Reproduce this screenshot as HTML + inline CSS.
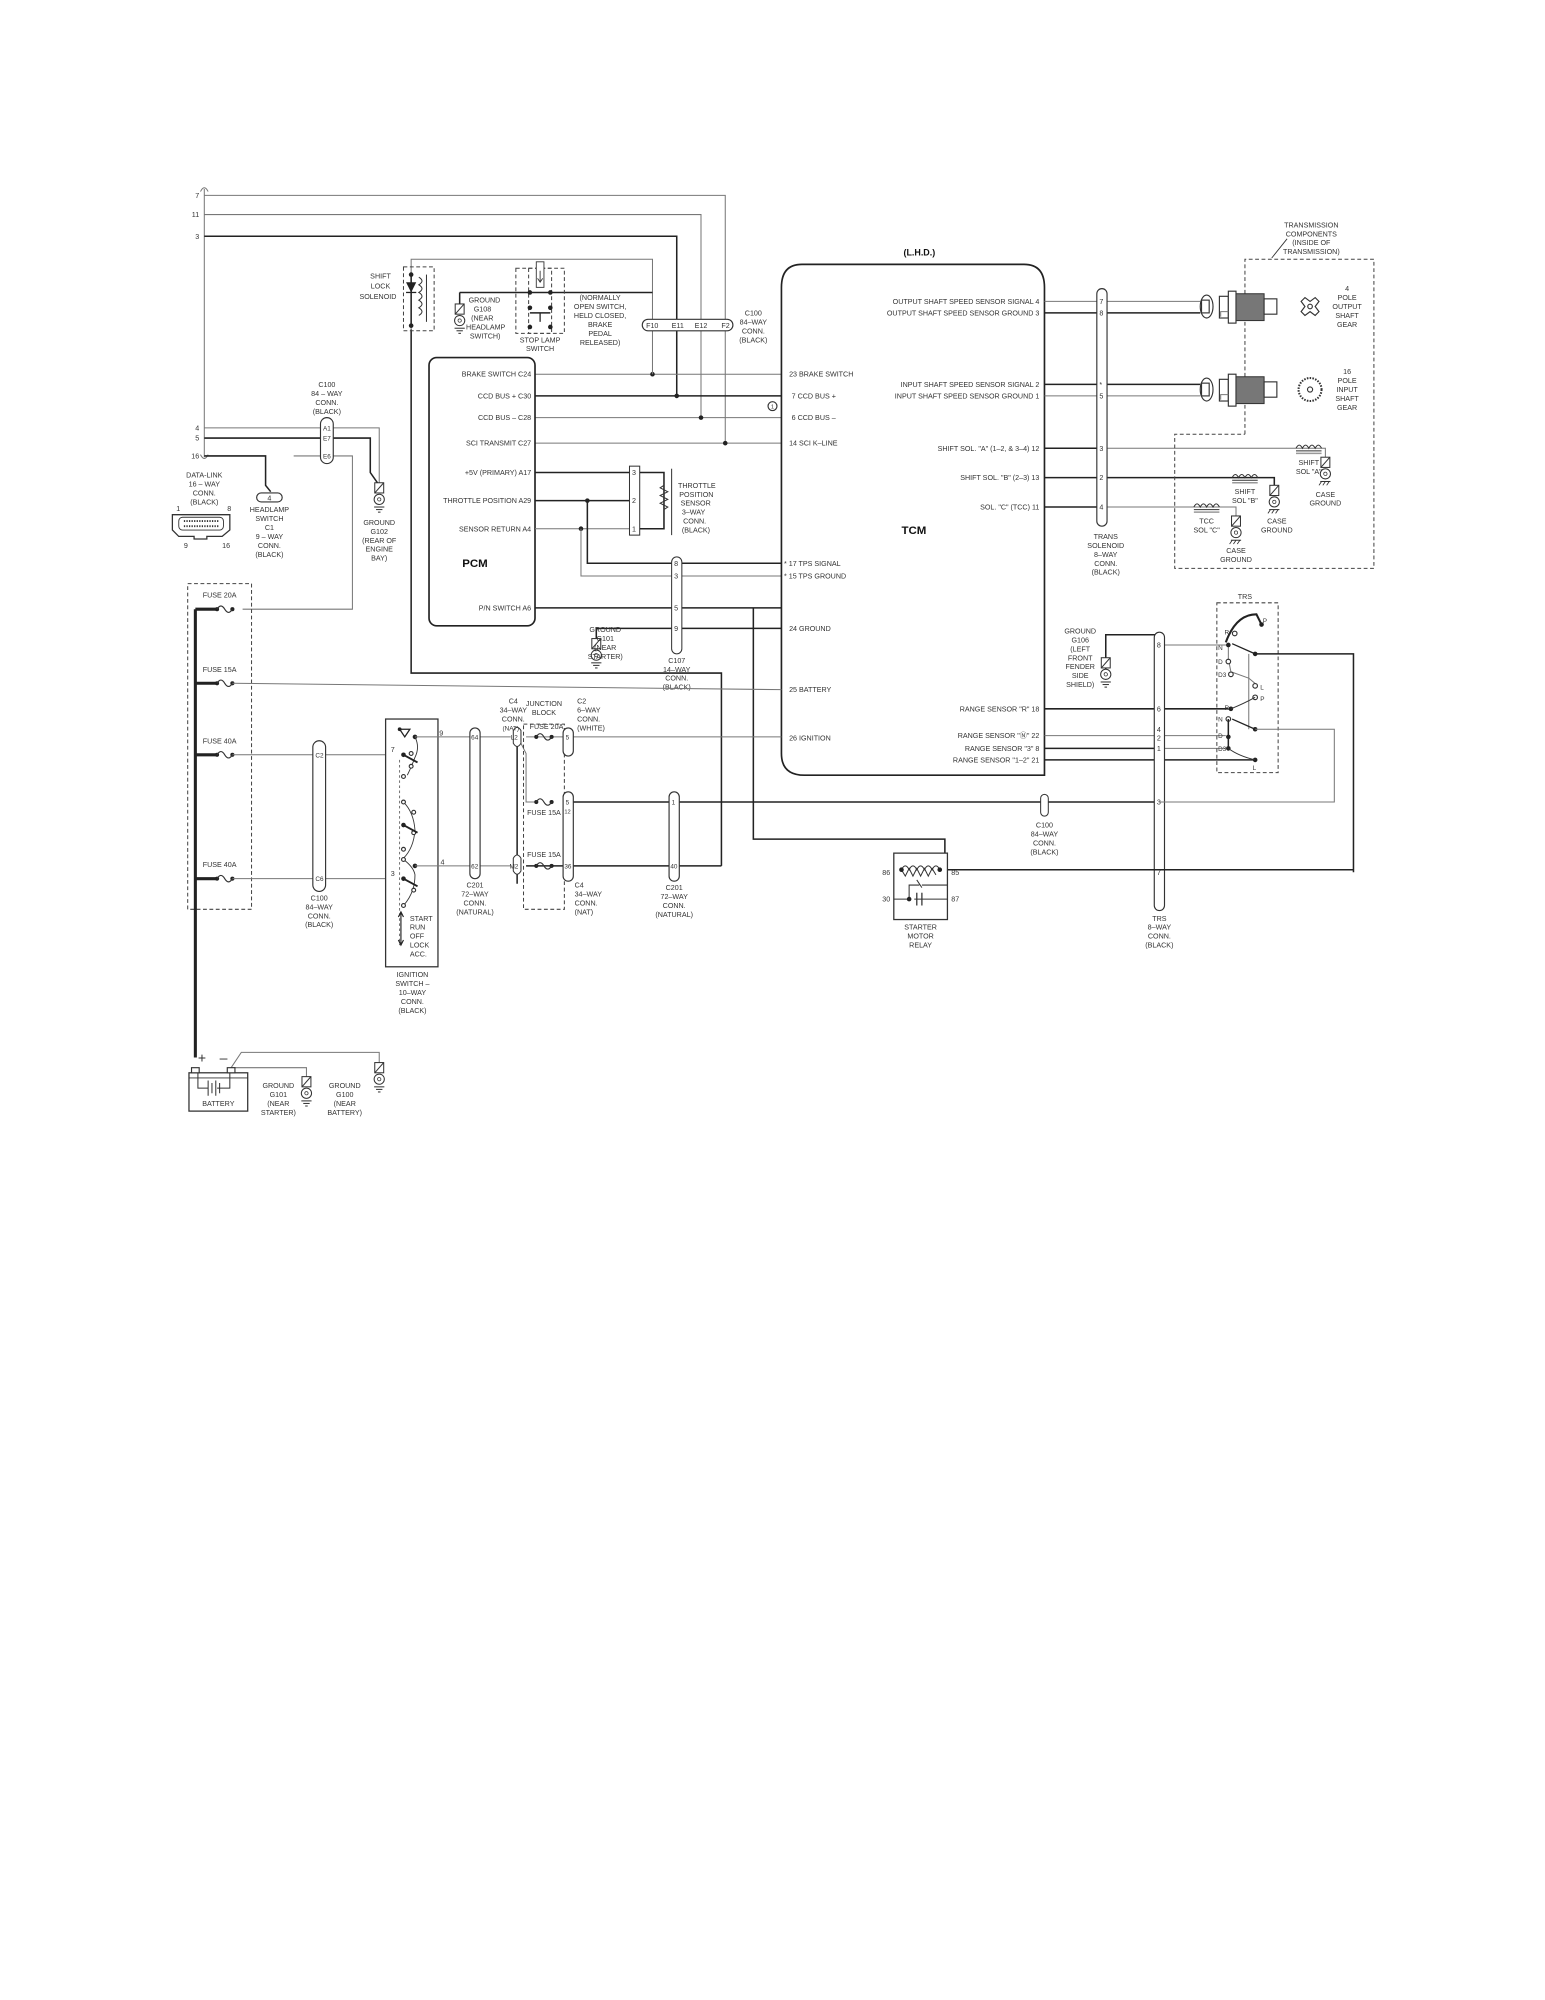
<!DOCTYPE html>
<html><head><meta charset="utf-8"><style>
html,body{margin:0;padding:0;background:#fff}
svg{display:block}
text{font-family:"Liberation Sans",sans-serif;font-size:5.6px;fill:#333}
.b{font-weight:bold;fill:#111}
.s5{font-size:5px}
.s45{font-size:4.5px}
.w{fill:none;stroke:#777;stroke-width:0.8}
.k{fill:none;stroke:#222;stroke-width:1.2}
.t{fill:none;stroke:#222;stroke-width:2.4}
.d{fill:none;stroke:#444;stroke-width:0.8;stroke-dasharray:3,2}
.c{fill:#fff;stroke:#333;stroke-width:0.9}
.bx{fill:none;stroke:#222;stroke-width:1.3}
</style></head><body>
<svg width="1545" height="2000" viewBox="0 0 1210 1566" preserveAspectRatio="none" xmlns="http://www.w3.org/2000/svg">
<defs>
<g id="gnd"><rect x="-3.5" y="0" width="7" height="8" fill="#fff" stroke="#333" stroke-width="0.8"/><line x1="-3.5" y1="8" x2="3.5" y2="0" stroke="#333" stroke-width="0.8"/><circle cx="0" cy="13" r="4" fill="#fff" stroke="#333" stroke-width="0.8"/><circle cx="0" cy="13" r="1.3" fill="none" stroke="#333" stroke-width="0.6"/><line x1="-4" y1="19" x2="4" y2="19" stroke="#333" stroke-width="0.8"/><line x1="-2.5" y1="21" x2="2.5" y2="21" stroke="#333" stroke-width="0.8"/><line x1="-1" y1="23" x2="1" y2="23" stroke="#333" stroke-width="0.8"/></g>
<g id="cg"><rect x="-3.5" y="0" width="7" height="8" fill="#fff" stroke="#333" stroke-width="0.8"/><line x1="-3.5" y1="8" x2="3.5" y2="0" stroke="#333" stroke-width="0.8"/><circle cx="0" cy="13" r="4" fill="#fff" stroke="#333" stroke-width="0.8"/><circle cx="0" cy="13" r="1.3" fill="none" stroke="#333" stroke-width="0.6"/><line x1="-4" y1="19" x2="4" y2="19" stroke="#333" stroke-width="0.8"/><path d="M-3 19l-2 3M0 19l-2 3M3 19l-2 3" stroke="#333" stroke-width="0.7"/></g>
<g id="fuse"><circle cx="-6" cy="0" r="1.6" fill="#222"/><circle cx="6" cy="0" r="1.6" fill="#222"/><path d="M-6 0 q3 -5 6 0 q3 5 6 0" fill="none" stroke="#333" stroke-width="0.9"/></g>
<g id="coil"><path d="M0 0 q2.5 -5 5 0 q2.5 -5 5 0 q2.5 -5 5 0 q2.5 -5 5 0" fill="none" stroke="#333" stroke-width="0.8"/><line x1="0" y1="2" x2="20" y2="2" stroke="#333" stroke-width="0.8"/><line x1="0" y1="4" x2="20" y2="4" stroke="#999" stroke-width="1.2"/></g>
</defs>

<path class="w" d="M157 150 q3 -6 6 0 M157 356 q3 6 6 0"/>
<line class="w" x1="160" y1="148" x2="160" y2="358"/>
<text x="156" y="155" text-anchor="end">7</text><text x="156" y="170" text-anchor="end">11</text><text x="156" y="187" text-anchor="end">3</text>
<text x="156" y="337" text-anchor="end">4</text><text x="156" y="345" text-anchor="end">5</text><text x="156" y="359" text-anchor="end">16</text>
<polyline class="w" points="160,153 568,153 568,347 612,347"/>
<polyline class="w" points="160,168 549,168 549,327 612,327"/>
<polyline class="k" points="160,185 530,185 530,310 612,310"/>
<polyline class="w" points="419,293 612,293"/>
<polyline class="k" points="419,310 530,310"/>
<polyline class="w" points="419,327 549,327"/>
<polyline class="w" points="419,347 568,347"/>
<circle cx="511" cy="293" r="1.8" fill="#222"/><circle cx="530" cy="310" r="1.8" fill="#222"/><circle cx="549" cy="327" r="1.8" fill="#222"/><circle cx="568" cy="347" r="1.8" fill="#222"/>
<circle cx="605" cy="318" r="3.5" class="c"/><text x="605" y="320" text-anchor="middle" class="s45">1</text>
<polyline class="w" points="322,258 322,203 511,203 511,293"/>
<polyline class="k" points="322,258 322,527 565,527 565,678"/>
<polyline class="k" points="360,229 511,229"/>
<polyline class="k" points="360,229 360,238"/>
<use href="#gnd" x="360" y="238"/>
<text x="367" y="237">GROUND</text><text x="371" y="244">G108</text><text x="369" y="251">(NEAR</text><text x="365" y="258">HEADLAMP</text><text x="368" y="265">SWITCH)</text>
<rect class="d" x="316" y="209" width="24" height="50"/>
<polyline class="k" points="322,215 322,255"/>
<path d="M318 221 l8 0 l-4 8z" fill="#222"/><line x1="318" y1="229" x2="326" y2="229" stroke="#222"/>
<path d="M328 217 q5 3 0 6 q5 3 0 6 q5 3 0 6 q5 3 0 6 q5 3 0 6" fill="none" stroke="#333" stroke-width="0.8"/>
<line x1="334" y1="215" x2="334" y2="252" stroke="#333" stroke-width="0.8"/>
<circle cx="322" cy="215" r="1.8" fill="#222"/><circle cx="322" cy="255" r="1.8" fill="#222"/>
<text x="298" y="218" text-anchor="middle">SHIFT</text><text x="298" y="226" text-anchor="middle">LOCK</text><text x="296" y="234" text-anchor="middle">SOLENOID</text>
<rect class="d" x="404" y="210" width="38" height="51"/>
<rect class="d" x="414" y="210" width="18" height="51"/>
<rect x="420" y="205" width="6" height="20" fill="#fff" stroke="#333" stroke-width="0.7"/><path d="M423 212 v9 m-2 -3 l2 3 l2 -3" stroke="#333" fill="none" stroke-width="0.7"/>
<circle cx="415" cy="229" r="1.8" fill="#222"/><circle cx="431" cy="229" r="1.8" fill="#222"/>
<circle cx="415" cy="241" r="1.8" fill="#222"/><circle cx="431" cy="241" r="1.8" fill="#222"/>
<line x1="415" y1="245" x2="431" y2="245" stroke="#222" stroke-width="1.2"/><line x1="423" y1="245" x2="423" y2="252" stroke="#222"/>
<circle cx="415" cy="256" r="1.8" fill="#222"/><circle cx="431" cy="256" r="1.8" fill="#222"/>
<text x="423" y="268" text-anchor="middle">STOP LAMP</text><text x="423" y="275" text-anchor="middle">SWITCH</text>
<text x="470" y="235" text-anchor="middle">(NORMALLY</text><text x="470" y="242" text-anchor="middle">OPEN SWITCH,</text><text x="470" y="249" text-anchor="middle">HELD CLOSED,</text><text x="470" y="256" text-anchor="middle">BRAKE</text><text x="470" y="263" text-anchor="middle">PEDAL</text><text x="470" y="270" text-anchor="middle">RELEASED)</text>
<rect x="503" y="250" width="71" height="9" rx="4.5" fill="#fff" stroke="#333" stroke-width="0.9"/>
<text x="506" y="257">F10</text><text x="526" y="257">E11</text><text x="544" y="257">E12</text><text x="565" y="257">F2</text>
<text x="590" y="247" text-anchor="middle">C100</text><text x="590" y="254" text-anchor="middle">84–WAY</text><text x="590" y="261" text-anchor="middle">CONN.</text><text x="590" y="268" text-anchor="middle">(BLACK)</text>

<rect class="bx" x="336" y="280" width="83" height="210" rx="6"/>
<g text-anchor="end"><text x="416" y="295">BRAKE SWITCH C24</text><text x="416" y="312">CCD BUS + C30</text><text x="416" y="329">CCD BUS – C28</text><text x="416" y="349">SCI TRANSMIT C27</text><text x="416" y="372">+5V (PRIMARY) A17</text><text x="416" y="394">THROTTLE POSITION A29</text><text x="416" y="416">SENSOR RETURN A4</text><text x="416" y="478">P/N SWITCH A6</text></g>
<text x="362" y="444" class="b" style="font-size:9px">PCM</text>
<polyline class="k" points="419,370 493,370"/><polyline class="k" points="419,392 493,392"/><polyline class="w" points="419,414 493,414"/>
<circle cx="460" cy="392" r="1.8" fill="#222"/><circle cx="455" cy="414" r="1.8" fill="#222"/>
<polyline class="k" points="460,392 460,441 612,441"/><polyline class="w" points="455,414 455,451 612,451"/>
<rect x="493" y="365" width="8" height="54" fill="#fff" stroke="#333" stroke-width="0.8"/>
<text x="495" y="372">3</text><text x="495" y="394">2</text><text x="495" y="416">1</text>
<polyline class="k" points="501,370 520,370 520,414 501,414"/>
<path d="M520 380 l-3 2 l6 3 l-6 3 l6 3 l-6 3 l6 3 l-3 2" fill="none" stroke="#333" stroke-width="0.8"/>
<line x1="526" y1="367" x2="526" y2="419" stroke="#333" stroke-width="0.8"/>
<text x="531" y="382">THROTTLE</text><text x="532" y="389">POSITION</text><text x="533" y="396">SENSOR</text><text x="534" y="403">3–WAY</text><text x="535" y="410">CONN.</text><text x="534" y="417">(BLACK)</text>
<polyline class="k" points="419,476 612,476"/>
<polyline class="k" points="590,476 590,657 740,657 740,670 736,681"/>
<polyline class="k" points="467,500 467,492 612,492"/>
<use href="#gnd" x="467" y="500"/>
<rect x="526" y="436" width="8" height="76" rx="4" fill="#fff" stroke="#333" stroke-width="0.8"/>
<text x="528" y="443">8</text><text x="528" y="453">3</text><text x="528" y="478">5</text><text x="528" y="494">9</text>
<text x="530" y="519" text-anchor="middle">C107</text><text x="530" y="526" text-anchor="middle">14–WAY</text><text x="530" y="533" text-anchor="middle">CONN.</text><text x="530" y="540" text-anchor="middle">(BLACK)</text>
<text x="474" y="495" text-anchor="middle">GROUND</text><text x="474" y="502" text-anchor="middle">G101</text><text x="474" y="509" text-anchor="middle">(NEAR</text><text x="474" y="516" text-anchor="middle">STARTER)</text>

<text x="720" y="200" class="b" text-anchor="middle" style="font-size:7px">(L.H.D.)</text>
<path class="bx" d="M628 207 H802 Q818 207 818 225 V607 H630 Q612 607 612 590 V225 Q612 207 628 207Z"/>
<g><text x="618" y="295">23   BRAKE SWITCH</text><text x="620" y="312">7   CCD BUS +</text><text x="620" y="329">6   CCD BUS –</text><text x="618" y="349">14   SCI K–LINE</text><text x="614" y="443">* 17   TPS SIGNAL</text><text x="614" y="453">* 15   TPS GROUND</text><text x="618" y="494">24   GROUND</text><text x="618" y="542">25   BATTERY</text><text x="618" y="580">26   IGNITION</text></g>
<g text-anchor="end"><text x="814" y="238">OUTPUT SHAFT SPEED SENSOR SIGNAL  4</text><text x="814" y="247">OUTPUT SHAFT SPEED SENSOR GROUND  3</text><text x="814" y="303">INPUT SHAFT SPEED SENSOR SIGNAL  2</text><text x="814" y="312">INPUT SHAFT SPEED SENSOR GROUND  1</text><text x="814" y="353">SHIFT SOL. "A" (1–2, &amp; 3–4)  12</text><text x="814" y="376">SHIFT SOL. "B" (2–3)  13</text><text x="814" y="399">SOL. "C" (TCC)  11</text><text x="814" y="557">RANGE SENSOR "R"  18</text><text x="814" y="578">RANGE SENSOR "Ⓝ"  22</text><text x="814" y="588">RANGE SENSOR "3"  8</text><text x="814" y="597">RANGE SENSOR "1–2"  21</text></g>
<text x="706" y="418" class="b" style="font-size:9px">TCM</text>

<polyline class="w" points="818,236 940,236"/><polyline class="k" points="818,245 940,245"/>
<polyline class="k" points="818,301 940,301"/><polyline class="w" points="818,310 940,310"/>
<polyline class="k" points="818,351 863,351"/><polyline class="w" points="863,351 1035,351 1038,351 1038,358"/>
<polyline class="k" points="818,374 985,374 998,374 998,380"/>
<polyline class="k" points="818,397 863,397"/><polyline class="w" points="863,397 955,397 968,397 968,404"/>
<rect x="859" y="226" width="8" height="186" rx="4" fill="#fff" stroke="#333" stroke-width="0.9"/>
<text x="861" y="238">7</text><text x="861" y="247">8</text><text x="861" y="303">*</text><text x="861" y="312">5</text><text x="861" y="353">3</text><text x="861" y="376">2</text><text x="861" y="399">4</text>
<text x="866" y="422" text-anchor="middle">TRANS</text><text x="866" y="429" text-anchor="middle">SOLENOID</text><text x="866" y="436" text-anchor="middle">8–WAY</text><text x="866" y="443" text-anchor="middle">CONN.</text><text x="866" y="450" text-anchor="middle">(BLACK)</text>
<polyline class="d" points="975,340 975,203 1076,203 1076,445 920,445 920,340 975,340"/>
<text x="1027" y="178" text-anchor="middle">TRANSMISSION</text><text x="1027" y="185" text-anchor="middle">COMPONENTS</text><text x="1027" y="192" text-anchor="middle">(INSIDE OF</text><text x="1027" y="199" text-anchor="middle">TRANSMISSION)</text>
<line x1="1008" y1="187" x2="996" y2="202" stroke="#333" stroke-width="0.7"/>
<g id="sensor"><ellipse cx="945" cy="240" rx="5" ry="9" class="c"/><rect x="941" y="235" width="6" height="10" class="c"/>
<rect x="955" y="232" width="7" height="17" class="c"/><rect x="962" y="228" width="6" height="25" class="c"/><rect x="968" y="230" width="22" height="21" fill="#777" stroke="#333" stroke-width="0.8"/><rect x="990" y="234" width="10" height="12" class="c"/><path d="M962 244 h-6 v4" class="w"/></g>
<use href="#sensor" x="0" y="65"/>
<path d="M1022 233 l4 3 l4 -3 l3 3 l-3 4 l3 4 l-3 3 l-4 -3 l-4 3 l-3 -3 l3 -4 l-3 -4z" class="c"/><circle cx="1026" cy="240" r="1.8" class="c"/>
<circle cx="1026" cy="305" r="9" fill="#fff" stroke="#333" stroke-width="1.6" stroke-dasharray="1.2,1"/><circle cx="1026" cy="305" r="2" class="c"/>
<text x="1055" y="228" text-anchor="middle">4</text><text x="1055" y="235" text-anchor="middle">POLE</text><text x="1055" y="242" text-anchor="middle">OUTPUT</text><text x="1055" y="249" text-anchor="middle">SHAFT</text><text x="1055" y="256" text-anchor="middle">GEAR</text>
<text x="1055" y="293" text-anchor="middle">16</text><text x="1055" y="300" text-anchor="middle">POLE</text><text x="1055" y="307" text-anchor="middle">INPUT</text><text x="1055" y="314" text-anchor="middle">SHAFT</text><text x="1055" y="321" text-anchor="middle">GEAR</text>
<use href="#coil" x="1015" y="351"/><use href="#cg" x="1038" y="358"/>
<use href="#coil" x="965" y="374"/><use href="#cg" x="998" y="380"/>
<use href="#coil" x="935" y="397"/><use href="#cg" x="968" y="404"/>
<text x="1025" y="364" text-anchor="middle">SHIFT</text><text x="1025" y="371" text-anchor="middle">SOL "A"</text>
<text x="975" y="387" text-anchor="middle">SHIFT</text><text x="975" y="394" text-anchor="middle">SOL "B"</text>
<text x="945" y="410" text-anchor="middle">TCC</text><text x="945" y="417" text-anchor="middle">SOL "C"</text>
<text x="1038" y="389" text-anchor="middle">CASE</text><text x="1038" y="396" text-anchor="middle">GROUND</text>
<text x="1000" y="410" text-anchor="middle">CASE</text><text x="1000" y="417" text-anchor="middle">GROUND</text>
<text x="968" y="433" text-anchor="middle">CASE</text><text x="968" y="440" text-anchor="middle">GROUND</text>

<polyline class="k" points="866,528 866,497 908,497"/><polyline class="w" points="908,505 962,505"/>
<use href="#gnd" x="866" y="515"/>
<text x="846" y="496" text-anchor="middle">GROUND</text><text x="846" y="503" text-anchor="middle">G106</text><text x="846" y="510" text-anchor="middle">(LEFT</text><text x="846" y="517" text-anchor="middle">FRONT</text><text x="846" y="524" text-anchor="middle">FENDER</text><text x="846" y="531" text-anchor="middle">SIDE</text><text x="846" y="538" text-anchor="middle">SHIELD)</text>
<polyline class="k" points="818,555 962,555"/><polyline class="w" points="818,576 960,576"/><polyline class="k" points="818,586 908,586"/><polyline class="w" points="908,586 960,586"/><polyline class="k" points="818,595 982,595"/>
<rect x="904" y="495" width="8" height="218" rx="4" fill="#fff" stroke="#333" stroke-width="0.9"/>
<text x="906" y="507">8</text><text x="906" y="557">6</text><text x="906" y="573">4</text><text x="906" y="580">2</text><text x="906" y="588">1</text><text x="906" y="630">3</text><text x="906" y="685">7</text>
<text x="908" y="721" text-anchor="middle">TRS</text><text x="908" y="728" text-anchor="middle">8–WAY</text><text x="908" y="735" text-anchor="middle">CONN.</text><text x="908" y="742" text-anchor="middle">(BLACK)</text>
<rect class="d" x="953" y="472" width="48" height="133"/>
<text x="975" y="469" text-anchor="middle">TRS</text>
<path d="M960 503 q8 -22 24 -22 l4 8" fill="none" stroke="#222" stroke-width="1.6"/>
<polyline class="w" points="962,505 962,516 964,526 978,531 984,536"/>
<circle cx="988" cy="489" r="1.8" fill="#222"/><circle cx="967" cy="496" r="1.8" class="c"/><circle cx="962" cy="505" r="1.8" fill="#222"/><circle cx="962" cy="518" r="1.8" class="c"/><circle cx="964" cy="528" r="1.8" class="c"/><circle cx="983" cy="537" r="1.8" class="c"/>
<circle cx="983" cy="512" r="1.8" fill="#222"/><line x1="983" y1="512" x2="965" y2="504" stroke="#222" stroke-width="1"/>
<polyline class="k" points="983,512 1060,512 1060,683"/>
<line x1="978" y1="512" x2="978" y2="571" class="w"/>
<circle cx="983" cy="546" r="1.8" class="c"/><circle cx="964" cy="555" r="1.8" fill="#222"/><circle cx="962" cy="563" r="1.8" class="c"/><circle cx="962" cy="577" r="1.8" fill="#222"/><circle cx="962" cy="586" r="1.8" fill="#222"/><circle cx="983" cy="595" r="1.8" fill="#222"/>
<path d="M964 555 q10 -4 19 -9 M962 586 q8 6 21 9" fill="none" stroke="#333" stroke-width="0.8"/>
<polyline class="k" points="962,563 962,586"/>
<circle cx="983" cy="571" r="1.8" fill="#222"/><line x1="983" y1="571" x2="965" y2="563" stroke="#222" stroke-width="1"/>
<polyline class="w" points="983,571 1045,571 1045,628 908,628"/>
<g class="s5"><text x="989" y="488" class="s5">P</text><text x="959" y="497" class="s5">R</text><text x="954" y="509" class="s5">N</text><text x="954" y="520" class="s5">D</text><text x="954" y="530" class="s5">D3</text><text x="987" y="540" class="s5">L</text><text x="987" y="549" class="s5">P</text><text x="959" y="556" class="s5">R</text><text x="954" y="565" class="s5">N</text><text x="954" y="578" class="s5">D</text><text x="954" y="588" class="s5">D3</text><text x="981" y="603" class="s5">L</text></g>
<polyline class="k" points="445,628 818,628"/><polyline class="k" points="818,628 904,628"/>
<rect x="815" y="622" width="6" height="17" rx="3" fill="#fff" stroke="#333" stroke-width="0.8"/>
<text x="818" y="648" text-anchor="middle">C100</text><text x="818" y="655" text-anchor="middle">84–WAY</text><text x="818" y="662" text-anchor="middle">CONN.</text><text x="818" y="669" text-anchor="middle">(BLACK)</text>
<polyline class="k" points="736,681 1060,681"/>
<rect x="700" y="668" width="42" height="52" fill="#fff" stroke="#333" stroke-width="1"/>
<path d="M706 681 q3 -6 6 0 q3 -6 6 0 q3 -6 6 0 q3 -6 6 0 q3 -6 6 0" fill="none" stroke="#333" stroke-width="0.8"/>
<path d="M706 681 l3 5 l3 -6 l3 6 l3 -6 l3 6 l3 -6 l3 6 l3 -6 l3 5" fill="none" stroke="#333" stroke-width="0.8"/>
<circle cx="706" cy="681" r="1.8" fill="#222"/><circle cx="736" cy="681" r="1.8" fill="#222"/>
<path d="M712 704 v-11 h8 M722 693 h20 M716 704 h26 M712 704 h-12 M718 689 l4 6" fill="none" stroke="#333" stroke-width="0.8"/>
<line x1="718" y1="699" x2="718" y2="709" stroke="#333"/><line x1="722" y1="699" x2="722" y2="709" stroke="#333"/>
<circle cx="712" cy="704" r="1.8" fill="#222"/>
<text x="691" y="685">86</text><text x="691" y="706">30</text><text x="745" y="685">85</text><text x="745" y="706">87</text>
<text x="721" y="728" text-anchor="middle">STARTER</text><text x="721" y="735" text-anchor="middle">MOTOR</text><text x="721" y="742" text-anchor="middle">RELAY</text>

<polyline class="k" points="160,343 290,343 290,370 297,380"/>
<polyline class="w" points="160,335 297,335 297,380"/>
<polyline class="k" points="160,357 208,357 208,380 212,385"/>
<polyline class="w" points="230,357 276,357 276,477 190,477"/>
<rect x="251" y="327" width="10" height="36" rx="5" fill="#fff" stroke="#333" stroke-width="0.9"/>
<text x="253" y="337" class="s5">A1</text><text x="253" y="345" class="s5">E7</text><text x="253" y="359" class="s5">E6</text>
<text x="256" y="303" text-anchor="middle">C100</text><text x="256" y="310" text-anchor="middle">84 – WAY</text><text x="256" y="317" text-anchor="middle">CONN.</text><text x="256" y="324" text-anchor="middle">(BLACK)</text>
<use href="#gnd" x="297" y="378"/>
<text x="297" y="411" text-anchor="middle">GROUND</text><text x="297" y="418" text-anchor="middle">G102</text><text x="297" y="425" text-anchor="middle">(REAR OF</text><text x="297" y="432" text-anchor="middle">ENGINE</text><text x="297" y="439" text-anchor="middle">BAY)</text>
<rect x="201" y="386" width="20" height="7" rx="3.5" fill="#fff" stroke="#333" stroke-width="0.9"/><text x="211" y="392" text-anchor="middle">4</text>
<text x="211" y="401" text-anchor="middle">HEADLAMP</text><text x="211" y="408" text-anchor="middle">SWITCH</text><text x="211" y="415" text-anchor="middle">C1</text><text x="211" y="422" text-anchor="middle">9 – WAY</text><text x="211" y="429" text-anchor="middle">CONN.</text><text x="211" y="436" text-anchor="middle">(BLACK)</text>
<path d="M135 403 h45 v12 l-6 5 h-12 v2 h-10 v-2 h-12 l-5 -5z" fill="#fff" stroke="#333" stroke-width="1"/>
<rect x="140" y="405" width="35" height="10" rx="3" fill="#fff" stroke="#333" stroke-width="0.7"/>
<line x1="144" y1="408" x2="171" y2="408" stroke="#333" stroke-width="1.5" stroke-dasharray="1,1"/><line x1="144" y1="412" x2="171" y2="412" stroke="#333" stroke-width="1.5" stroke-dasharray="1,1"/>
<text x="160" y="374" text-anchor="middle">DATA-LINK</text><text x="160" y="381" text-anchor="middle">16 – WAY</text><text x="160" y="388" text-anchor="middle">CONN.</text><text x="160" y="395" text-anchor="middle">(BLACK)</text>
<text x="138" y="400">1</text><text x="178" y="400">8</text><text x="144" y="429">9</text><text x="174" y="429">16</text>

<rect class="d" x="147" y="457" width="50" height="255"/>
<line class="t" x1="153" y1="477" x2="153" y2="828"/>
<line class="t" x1="153" y1="477" x2="170" y2="477"/><line class="t" x1="153" y1="535" x2="170" y2="535"/><line class="t" x1="153" y1="591" x2="170" y2="591"/><line class="t" x1="153" y1="688" x2="170" y2="688"/>
<use href="#fuse" x="176" y="477"/><use href="#fuse" x="176" y="535"/><use href="#fuse" x="176" y="591"/><use href="#fuse" x="176" y="688"/>
<text x="172" y="468" text-anchor="middle">FUSE 20A</text><text x="172" y="526" text-anchor="middle">FUSE 15A</text><text x="172" y="582" text-anchor="middle">FUSE 40A</text><text x="172" y="679" text-anchor="middle">FUSE 40A</text>
<polyline class="w" points="182,535 612,540"/>
<polyline class="w" points="182,591 318,591"/><polyline class="w" points="182,688 318,688"/>
<rect x="245" y="580" width="10" height="118" rx="5" fill="#fff" stroke="#333" stroke-width="0.9"/>
<text x="247" y="593" class="s5">C2</text><text x="247" y="690" class="s5">C6</text>
<text x="250" y="705" text-anchor="middle">C100</text><text x="250" y="712" text-anchor="middle">84–WAY</text><text x="250" y="719" text-anchor="middle">CONN.</text><text x="250" y="726" text-anchor="middle">(BLACK)</text>
<rect x="302" y="563" width="41" height="194" fill="#fff" stroke="#333" stroke-width="1"/>
<path d="M313 571 l8 0 l-4 6z" fill="none" stroke="#222"/><circle cx="313" cy="571" r="1.5" fill="#222"/>
<circle cx="325" cy="577" r="1.8" fill="#222"/>
<path d="M325 577 q4 8 0 16 q-3 8 -6 14" fill="none" stroke="#333" stroke-width="0.7"/>
<circle cx="322" cy="590" r="1.5" class="c"/><circle cx="322" cy="600" r="1.5" class="c"/><circle cx="316" cy="608" r="1.5" class="c"/>
<circle cx="316" cy="591" r="1.8" fill="#222"/><line x1="316" y1="591" x2="327" y2="597" stroke="#222" stroke-width="1.5"/>
<path d="M316 628 q8 8 9 22 q-1 14 -9 22" fill="none" stroke="#333" stroke-width="0.7"/>
<circle cx="316" cy="628" r="1.5" class="c"/><circle cx="324" cy="636" r="1.5" class="c"/><circle cx="324" cy="652" r="1.5" class="c"/><circle cx="316" cy="665" r="1.5" class="c"/>
<circle cx="316" cy="646" r="1.8" fill="#222"/><line x1="316" y1="646" x2="327" y2="652" stroke="#222" stroke-width="1.5"/>
<path d="M316 673 q8 6 9 12 q0 14 -9 24" fill="none" stroke="#333" stroke-width="0.7"/>
<circle cx="316" cy="673" r="1.5" class="c"/><circle cx="325" cy="678" r="1.8" fill="#222"/><circle cx="324" cy="697" r="1.5" class="c"/><circle cx="316" cy="709" r="1.5" class="c"/>
<circle cx="316" cy="688" r="1.8" fill="#222"/><line x1="316" y1="688" x2="327" y2="694" stroke="#222" stroke-width="1.5"/>
<line x1="313" y1="595" x2="313" y2="740" stroke="#444" stroke-width="0.6" stroke-dasharray="2,2"/>
<path d="M314 715 v24 M312 718 l2 -4 l2 4 M312 736 l2 4 l2 -4" fill="none" stroke="#222" stroke-width="0.9"/>
<text x="306" y="589">7</text><text x="306" y="686">3</text><text x="344" y="576">9</text><text x="345" y="677">4</text>
<text x="321" y="721">START</text><text x="321" y="728">RUN</text><text x="321" y="735">OFF</text><text x="321" y="742">LOCK</text><text x="321" y="749">ACC.</text>
<text x="323" y="765" text-anchor="middle">IGNITION</text><text x="323" y="772" text-anchor="middle">SWITCH –</text><text x="323" y="779" text-anchor="middle">10–WAY</text><text x="323" y="786" text-anchor="middle">CONN.</text><text x="323" y="793" text-anchor="middle">(BLACK)</text>
<polyline class="w" points="325,577 400,577"/><polyline class="w" points="412,577 445,577 612,577"/>
<polyline class="w" points="325,678 400,678"/><polyline class="k" points="412,678 445,678 565,678"/>
<polyline class="w" points="408,582 412,590 412,628 420,628"/>
<line class="k" x1="405" y1="570" x2="405" y2="692"/>
<rect x="368" y="570" width="8" height="118" rx="4" fill="#fff" stroke="#333" stroke-width="0.9"/>
<text x="369" y="579" class="s5">64</text><text x="369" y="680" class="s5">62</text>
<text x="372" y="695" text-anchor="middle">C201</text><text x="372" y="702" text-anchor="middle">72–WAY</text><text x="372" y="709" text-anchor="middle">CONN.</text><text x="372" y="716" text-anchor="middle">(NATURAL)</text>
<path d="M402 572 q3 -5 6 0 v10 q-3 5 -6 0z M402 672 q3 -5 6 0 v10 q-3 5 -6 0z" fill="#fff" stroke="#333" stroke-width="0.8"/>
<text x="400" y="579" class="s5">L2</text><text x="399" y="680" class="s5">M2</text>
<text x="402" y="551" text-anchor="middle">C4</text><text x="402" y="558" text-anchor="middle">34–WAY</text><text x="402" y="565" text-anchor="middle">CONN.</text><text x="400" y="572" text-anchor="middle" class="s5">(NAT)</text>
<rect class="d" x="410" y="567" width="32" height="145"/>
<text x="426" y="553" text-anchor="middle">JUNCTION</text><text x="426" y="560" text-anchor="middle">BLOCK</text>
<use href="#fuse" x="426" y="577"/><use href="#fuse" x="426" y="628"/><use href="#fuse" x="426" y="678"/>
<text x="428" y="571" text-anchor="middle">FUSE 20A</text><text x="426" y="638" text-anchor="middle">FUSE 15A</text><text x="426" y="671" text-anchor="middle">FUSE 15A</text>
<rect x="441" y="570" width="8" height="22" rx="4" fill="#fff" stroke="#333" stroke-width="0.9"/>
<rect x="441" y="620" width="8" height="70" rx="4" fill="#fff" stroke="#333" stroke-width="0.9"/>
<text x="443" y="579" class="s5">5</text><text x="443" y="630" class="s5">5</text><text x="442" y="637" class="s45">12</text><text x="442" y="680" class="s5">36</text>
<text x="452" y="551">C2</text><text x="452" y="558">6–WAY</text><text x="452" y="565">CONN.</text><text x="452" y="572">(WHITE)</text>
<text x="450" y="695">C4</text><text x="450" y="702">34–WAY</text><text x="450" y="709">CONN.</text><text x="450" y="716">(NAT)</text>
<rect x="524" y="620" width="8" height="70" rx="4" fill="#fff" stroke="#333" stroke-width="0.9"/>
<text x="526" y="630" class="s5">1</text><text x="525" y="680" class="s5">40</text>
<text x="528" y="697" text-anchor="middle">C201</text><text x="528" y="704" text-anchor="middle">72–WAY</text><text x="528" y="711" text-anchor="middle">CONN.</text><text x="528" y="718" text-anchor="middle">(NATURAL)</text>

<polyline class="w" points="181,836 189,824 297,824 297,832"/>
<polyline class="w" points="181,836 240,836 240,845"/>
<rect x="148" y="840" width="46" height="30" fill="#fff" stroke="#333" stroke-width="1"/>
<rect x="150" y="836" width="6" height="4" class="c"/><rect x="178" y="836" width="6" height="4" class="c"/>
<line x1="148" y1="844" x2="194" y2="844" stroke="#333" stroke-width="0.7"/>
<path d="M155 840 v12 h8 M170 852 h10 v-12 M163 846 v12 M166 848 v8 M169 846 v12 M172 848 v8" fill="none" stroke="#333" stroke-width="0.8"/>
<text x="171" y="866" text-anchor="middle">BATTERY</text>
<text x="155" y="832" style="font-size:11px">+</text><text x="172" y="832" style="font-size:11px">–</text>
<use href="#gnd" x="240" y="843"/><use href="#gnd" x="297" y="832"/>
<text x="218" y="852" text-anchor="middle">GROUND</text><text x="218" y="859" text-anchor="middle">G101</text><text x="218" y="866" text-anchor="middle">(NEAR</text><text x="218" y="873" text-anchor="middle">STARTER)</text>
<text x="270" y="852" text-anchor="middle">GROUND</text><text x="270" y="859" text-anchor="middle">G100</text><text x="270" y="866" text-anchor="middle">(NEAR</text><text x="270" y="873" text-anchor="middle">BATTERY)</text>
</svg>
</body></html>
